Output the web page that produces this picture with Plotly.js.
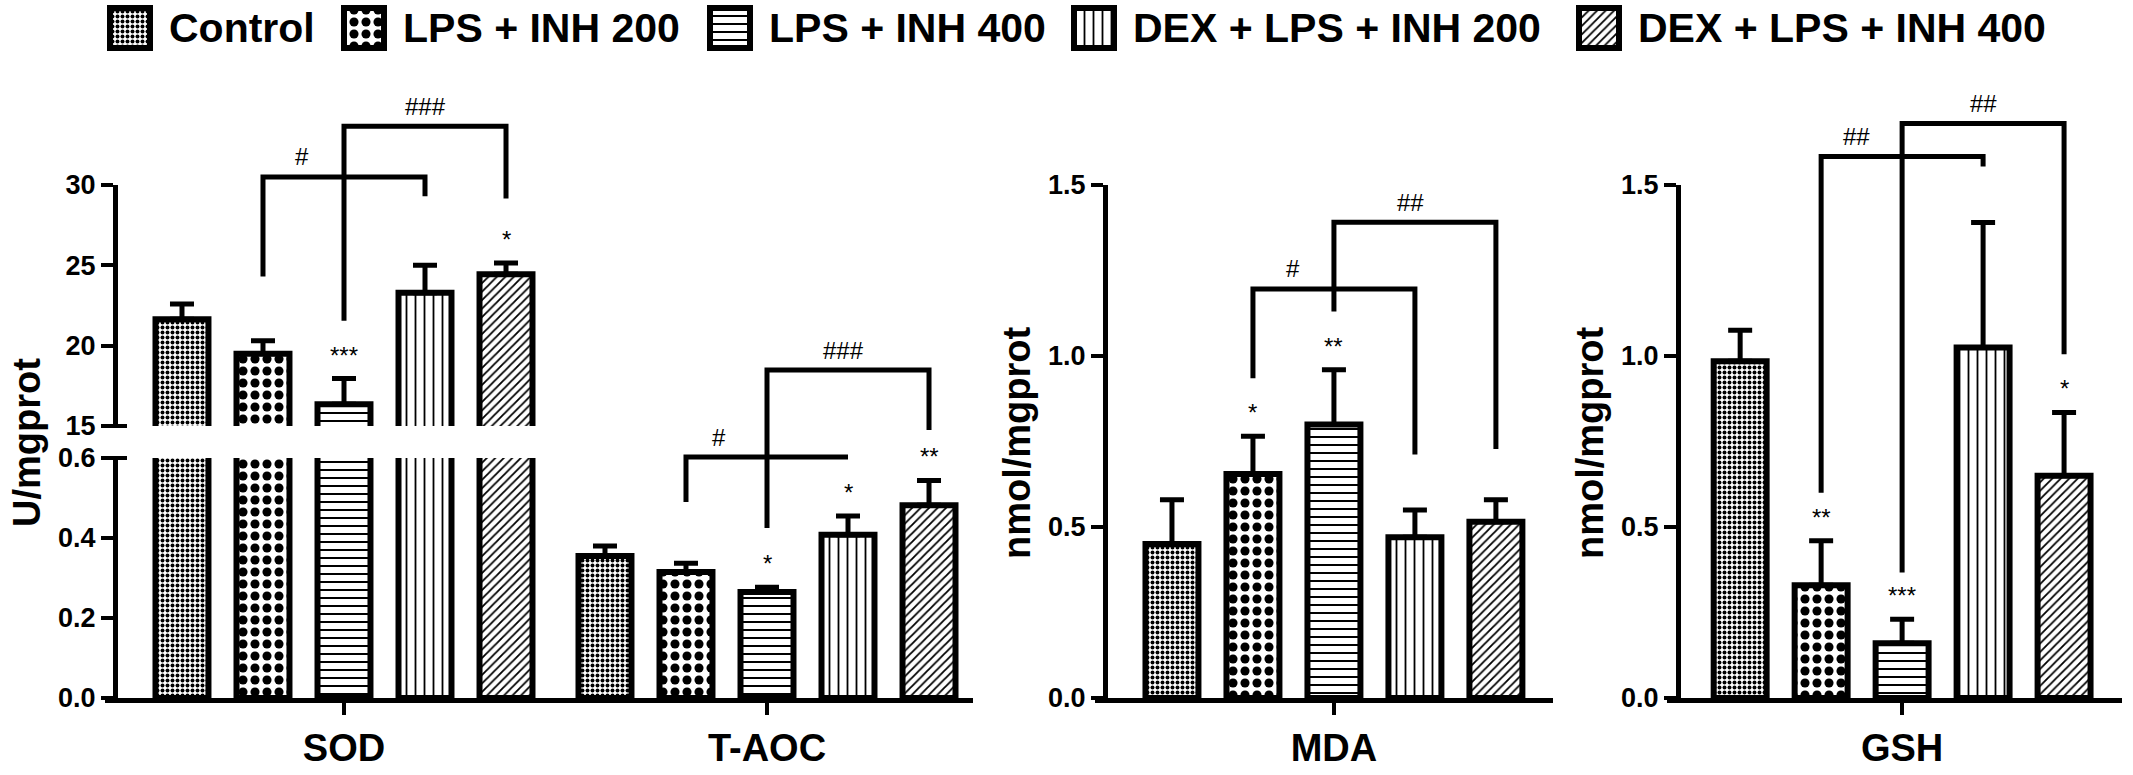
<!DOCTYPE html>
<html>
<head>
<meta charset="utf-8">
<script src="https://cdn.plot.ly/plotly-3.0.1.min.js"></script>
<style>
  html, body { margin: 0; padding: 0; background: #fff; }
  #graph { width: 2133px; height: 775px; }
</style>
</head>
<body>
<div id="graph"></div>
<script>
// ---- data ----
var groups = ['Control', 'LPS + INH 200', 'LPS + INH 400', 'DEX + LPS + INH 200', 'DEX + LPS + INH 400'];

var panel1Cats = ['SOD', 'T-AOC'];
var sodMean  = [21.65, 19.5, 16.35, 23.3, 24.45];
var sodErr   = [0.95, 0.8, 1.6, 1.7, 0.7];
var taocMean = [0.355, 0.315, 0.265, 0.408, 0.482];
var taocErr  = [0.025, 0.022, 0.012, 0.047, 0.062];
var mdaMean  = [0.45, 0.655, 0.80, 0.47, 0.515];
var mdaErr   = [0.13, 0.11, 0.16, 0.08, 0.065];
var gshMean  = [0.985, 0.33, 0.16, 1.025, 0.65];
var gshErr   = [0.09, 0.13, 0.07, 0.365, 0.185];

// asterisks (vs control)
var sodStars  = ['', '', '***', '', '*'];
var taocStars = ['', '', '*', '*', '**'];
var mdaStars  = ['', '*', '**', '', ''];
var gshStars  = ['', '**', '***', '', '*'];

// brackets: [fromBar, toBar, leftLegBottom, top, rightLegBottom]
var sodBrackets  = [[1, 3, 24.3, 30.5, 29.3], [2, 4, 21.55, 33.65, 29.15]];
var sodHash      = ['#', '###'];
var sodHashX     = [1.48, 3.0];
var taocBrackets = [[1, 3, 0.49, 0.6025, 0.6025], [2, 4, 0.425, 0.82, 0.67]];
var taocHash     = ['#', '###'];
var taocHashX    = [1.41, 2.95];
var mdaBrackets  = [[1, 3, 0.935, 1.196, 0.712], [2, 4, 1.13, 1.391, 0.728]];
var mdaHash      = ['#', '##'];
var mdaHashX     = [1.5, 2.95];
var gshBrackets  = [[1, 3, 0.60, 1.583, 1.554], [2, 4, 0.367, 1.68, 1.005]];
var gshHash      = ['##', '##'];
var gshHashX     = [1.44, 3.0];

// ---- layout helpers ----
var W = 2133, H = 775;
function px(x) { return x / W; }
function py(y) { return (H - y) / H; }
var fontFam = 'Liberation Sans, Arial, Helvetica, sans-serif';

var patterns = [
    {shape: '.', size: 5, solidity: 0.5},
    {shape: '.', size: 12, solidity: 0.45},
    {shape: '-', size: 8, solidity: 0.25},
    {shape: '|', size: 9, solidity: 0.2},
    {shape: '/', size: 6, solidity: 0.3}
];

var bargap = 0.0425;
var slot = (1 - bargap) / groups.length;

function barMarker(i) {
    return {
        color: '#fff',
        line: {color: '#000', width: 6},
        pattern: {
            shape: patterns[i].shape,
            size: patterns[i].size,
            solidity: patterns[i].solidity,
            fgcolor: '#000',
            fgopacity: 1,
            bgcolor: '#fff',
            fillmode: 'overlay'
        }
    };
}

function errBar(arr) {
    return {
        type: 'data', symmetric: false, array: arr,
        arrayminus: arr.map(function () { return 0; }),
        color: '#000', thickness: 5, width: 12
    };
}

var data = [];

// panel 1: same bars on the lower (0-0.6) and upper (15-30) segments
['y', 'y2'].forEach(function (yax) {
    groups.forEach(function (g, i) {
        data.push({
            type: 'bar', name: g, showlegend: false,
            x: panel1Cats, y: [sodMean[i], taocMean[i]],
            error_y: errBar([sodErr[i], taocErr[i]]),
            marker: barMarker(i), xaxis: 'x', yaxis: yax, hoverinfo: 'skip'
        });
    });
});

// MDA and GSH panels
groups.forEach(function (g, i) {
    data.push({
        type: 'bar', name: g, showlegend: false,
        x: ['MDA'], y: [mdaMean[i]], error_y: errBar([mdaErr[i]]),
        marker: barMarker(i), xaxis: 'x5', yaxis: 'y5', hoverinfo: 'skip'
    });
});
groups.forEach(function (g, i) {
    data.push({
        type: 'bar', name: g, showlegend: false,
        x: ['GSH'], y: [gshMean[i]], error_y: errBar([gshErr[i]]),
        marker: barMarker(i), xaxis: 'x6', yaxis: 'y6', hoverinfo: 'skip'
    });
});

// empty traces so the overlay (annotation) subplots exist
[['x', 'y3'], ['x', 'y4'], ['x6', 'y7']].forEach(function (p) {
    data.push({type: 'scatter', x: [], y: [], xaxis: p[0], yaxis: p[1], showlegend: false, hoverinfo: 'skip'});
});

// custom legend with big patterned keys
var legendX = [130, 364, 730, 1094, 1599];
groups.forEach(function (g, i) {
    data.push({
        type: 'bar', showlegend: false, x: [legendX[i]], y: [1], width: [40], offset: -20,
        marker: barMarker(i), xaxis: 'x8', yaxis: 'y8', hoverinfo: 'skip'
    });
});

// ---- shapes & annotations ----
var shapes = [];
var annotations = [];

function barX(cat, i) { return cat + (i - 2) * slot; }

function addMarks(xref, yref, cat, mean, err, stars, brackets, hash, hashX) {
    stars.forEach(function (s, i) {
        if (!s) return;
        annotations.push({
            xref: xref, yref: yref, x: barX(cat, i), y: mean[i] + err[i],
            text: s, showarrow: false, yanchor: 'bottom', yshift: 8,
            font: {family: fontFam, size: 24, color: '#000'}
        });
    });
    brackets.forEach(function (b, k) {
        var xa = barX(cat, b[0]), xb = barX(cat, b[1]);
        shapes.push({
            type: 'path', xref: xref, yref: yref,
            path: 'M' + xa + ',' + b[2] + ' L' + xa + ',' + b[3] + ' L' + xb + ',' + b[3] + ' L' + xb + ',' + b[4],
            line: {color: '#000', width: 5}
        });
        annotations.push({
            xref: xref, yref: yref, x: cat + (hashX[k] - 2) * slot, y: b[3],
            text: hash[k], showarrow: false, yanchor: 'middle', yshift: 20,
            font: {family: fontFam, size: 24, color: '#000'}
        });
    });
}

addMarks('x', 'y4', 0, sodMean, sodErr, sodStars, sodBrackets, sodHash, sodHashX);
addMarks('x', 'y3', 1, taocMean, taocErr, taocStars, taocBrackets, taocHash, taocHashX);
addMarks('x5', 'y5', 0, mdaMean, mdaErr, mdaStars, mdaBrackets, mdaHash, mdaHashX);
addMarks('x6', 'y7', 0, gshMean, gshErr, gshStars, gshBrackets, gshHash, gshHashX);

// broken-axis end caps
[426, 458].forEach(function (yy) {
    shapes.push({type: 'line', xref: 'paper', yref: 'paper', x0: px(113), x1: px(127), y0: py(yy), y1: py(yy),
        line: {color: '#000', width: 4}});
});

// y-axis titles
[['U/mgprot', 27], ['nmol/mgprot', 1017], ['nmol/mgprot', 1590]].forEach(function (t) {
    annotations.push({
        xref: 'paper', yref: 'paper', x: px(t[1]), y: py(443), text: t[0], textangle: -90,
        showarrow: false, xanchor: 'center', yanchor: 'middle',
        font: {family: fontFam, size: 38, weight: 'bold', color: '#000'}
    });
});

// legend labels
groups.forEach(function (g, i) {
    annotations.push({
        xref: 'x8', yref: 'y8', x: legendX[i] + 37, y: 0.5, text: g, showarrow: false,
        xanchor: 'left', yanchor: 'middle',
        font: {family: fontFam, size: 41, weight: 'bold', color: '#000'}
    });
});

// ---- axes ----
function xAxis(domain, range, anchor) {
    return {
        type: 'category', domain: domain, range: range, anchor: anchor,
        showline: true, linewidth: 5, linecolor: '#000',
        ticks: 'outside', ticklen: 12, tickwidth: 4, tickcolor: '#000',
        tickfont: {family: fontFam, size: 38, weight: 'bold', color: '#000'},
        ticklabelstandoff: 0,
        showgrid: false, zeroline: false, fixedrange: true
    };
}
function yAxis(domain, range, pos, extra) {
    var ax = {
        domain: domain, range: range, anchor: 'free', position: pos,
        showline: true, linewidth: 5, linecolor: '#000',
        ticks: 'outside', ticklen: 12, tickwidth: 4, tickcolor: '#000',
        tickfont: {family: fontFam, size: 27, weight: 'bold', color: '#000'},
        tickformat: '.1f',
        showgrid: false, zeroline: false, fixedrange: true
    };
    for (var k in extra) ax[k] = extra[k];
    return ax;
}
function hiddenY(domain, range, anchor) {
    return {domain: domain, range: range, anchor: anchor, visible: false, fixedrange: true};
}

var layout = {
    width: W, height: H, autosize: false,
    margin: {l: 0, r: 0, t: 0, b: 0, pad: 0},
    paper_bgcolor: '#fff', plot_bgcolor: 'rgba(0,0,0,0)',
    showlegend: false, barmode: 'group', bargap: bargap, bargroupgap: 0.346,
    hovermode: false,
    font: {family: fontFam, color: '#000'},
    xaxis:  xAxis([px(105), px(973)], [-0.565, 1.487], 'y'),
    xaxis5: xAxis([px(1095), px(1553)], [-0.565, 0.518], 'y5'),
    xaxis6: xAxis([px(1667), px(2122)], [-0.556, 0.520], 'y6'),
    yaxis:  yAxis([py(698), py(458)], [0, 0.6], px(115), {tickvals: [0, 0.2, 0.4, 0.6]}),
    yaxis2: yAxis([py(426), py(185)], [15, 30], px(115), {tickvals: [15, 20, 25, 30], tickformat: 'd'}),
    yaxis3: hiddenY([py(698), py(98)], [0, 1.5], 'x'),
    yaxis4: hiddenY([py(426), py(98)], [15, 15 + (426 - 98) / 16.07], 'x'),
    yaxis5: yAxis([py(698), py(185)], [0, 1.5], px(1105), {tickvals: [0, 0.5, 1.0, 1.5]}),
    yaxis6: yAxis([py(698), py(185)], [0, 1.5], px(1678), {tickvals: [0, 0.5, 1.0, 1.5]}),
    yaxis7: hiddenY([py(698), py(98)], [0, 600 / 342], 'x6'),
    xaxis8: {domain: [0, 1], range: [0, W], anchor: 'y8', visible: false, fixedrange: true},
    yaxis8: hiddenY([py(52), py(4)], [-0.1, 1.1], 'x8'),
    shapes: shapes,
    annotations: annotations
};

var graph = document.getElementById('graph');
Plotly.newPlot(graph, data, layout, {staticPlot: true, displayModeBar: false});
</script>
</body>
</html>
